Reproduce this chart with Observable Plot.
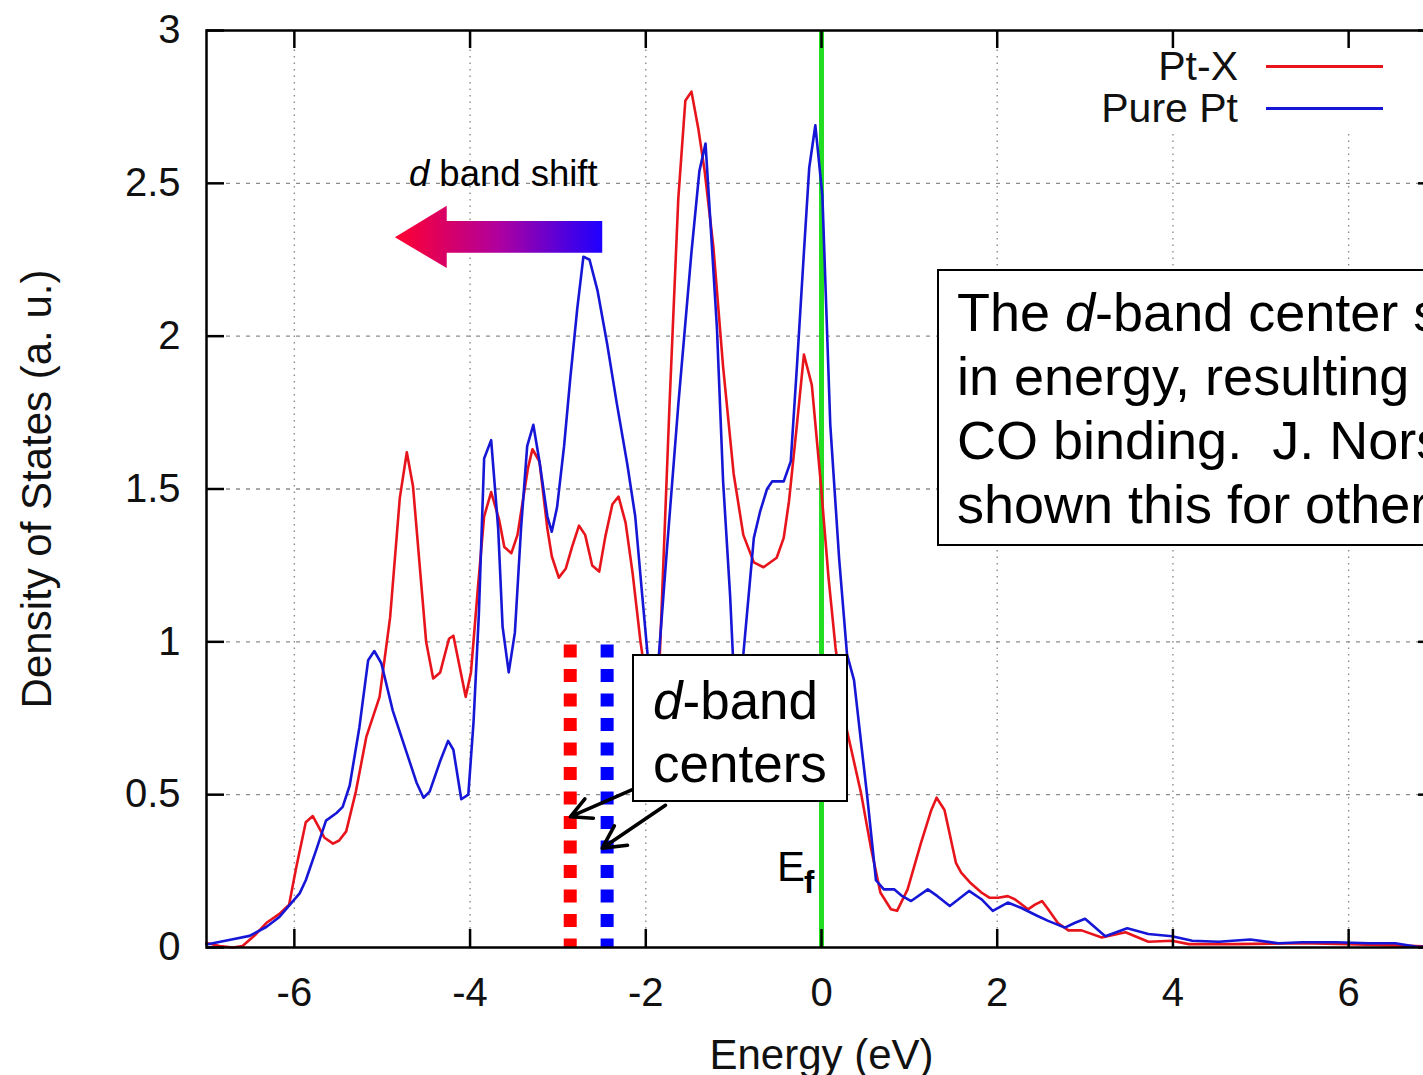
<!DOCTYPE html>
<html>
<head>
<meta charset="utf-8">
<script src="https://cdn.jsdelivr.net/npm/d3@7"></script>
<script src="https://cdn.jsdelivr.net/npm/@observablehq/plot@0.6"></script>
<style>
html, body { margin: 0; padding: 0; background: #fff; overflow: hidden; }
#wrap { position: relative; width: 1423px; height: 1075px; overflow: hidden; background: #fff;
        font-family: "Liberation Sans", Arial, Helvetica, sans-serif; color: #000; }
#wrap svg { position: absolute; left: 0; top: 0; max-width: none !important; width: 1440px !important; height: 1075px !important; }
.ov { position: absolute; white-space: nowrap; }
.box { position: absolute; box-sizing: border-box; background: #fff; border: 2px solid #000; white-space: nowrap; }
</style>
</head>
<body>
<div id="wrap"></div>
<script>
// ---------------- data ----------------
const xTicks = [-6, -4, -2, 0, 2, 4, 6];
const yTicks = [0, 0.5, 1, 1.5, 2, 2.5, 3];

const seriesNames = ["Pt-X", "Pure Pt"];
const seriesColors = ["#e8141c", "#1616d6"];

// Pt-X (red)
const ptxE = [-7.00,-6.85,-6.70,-6.59,-6.45,-6.32,-6.17,-6.06,-5.98,-5.87,-5.79,-5.66,-5.56,-5.49,-5.41,-5.30,-5.18,-5.03,-4.91,-4.80,-4.72,-4.65,-4.50,-4.42,-4.34,-4.24,-4.19,-4.05,-3.99,-3.91,-3.84,-3.76,-3.67,-3.61,-3.53,-3.46,-3.34,-3.29,-3.21,-3.12,-3.07,-2.99,-2.91,-2.84,-2.76,-2.69,-2.61,-2.53,-2.46,-2.38,-2.31,-2.23,-2.15,-2.06,-1.95,-1.84,-1.73,-1.63,-1.55,-1.48,-1.40,-1.33,-1.23,-1.12,-1.00,-0.89,-0.77,-0.66,-0.51,-0.43,-0.37,-0.28,-0.20,-0.11,-0.01,0.08,0.16,0.29,0.45,0.56,0.67,0.79,0.86,0.98,1.13,1.25,1.31,1.40,1.53,1.59,1.70,1.82,1.91,2.01,2.12,2.20,2.35,2.43,2.51,2.58,2.69,2.81,2.96,3.19,3.46,3.72,3.99,4.18,4.71,5.47,6.00,6.61,7.00];
const ptxD = [0.015,0.005,0.000,0.005,0.040,0.080,0.110,0.140,0.260,0.410,0.430,0.360,0.340,0.350,0.380,0.510,0.690,0.820,1.080,1.470,1.620,1.510,1.000,0.880,0.900,1.010,1.020,0.820,0.900,1.180,1.410,1.490,1.400,1.310,1.290,1.350,1.570,1.630,1.590,1.370,1.280,1.210,1.240,1.310,1.380,1.350,1.250,1.230,1.345,1.450,1.475,1.390,1.225,1.000,0.780,0.960,1.775,2.450,2.770,2.800,2.675,2.540,2.290,1.900,1.550,1.350,1.260,1.244,1.275,1.340,1.460,1.710,1.940,1.840,1.525,1.210,0.980,0.710,0.505,0.330,0.180,0.125,0.120,0.190,0.340,0.450,0.490,0.450,0.277,0.245,0.210,0.180,0.163,0.163,0.168,0.158,0.125,0.140,0.152,0.125,0.080,0.056,0.056,0.033,0.050,0.019,0.022,0.011,0.011,0.014,0.011,0.006,0.002];

// Pure Pt (blue)
const pureE = [-7.00,-6.70,-6.51,-6.32,-6.17,-6.06,-5.94,-5.87,-5.75,-5.64,-5.52,-5.45,-5.37,-5.26,-5.16,-5.09,-5.01,-4.88,-4.72,-4.61,-4.53,-4.46,-4.34,-4.25,-4.19,-4.10,-4.02,-3.96,-3.90,-3.84,-3.76,-3.68,-3.63,-3.56,-3.49,-3.42,-3.35,-3.28,-3.21,-3.12,-3.07,-3.01,-2.93,-2.86,-2.78,-2.71,-2.64,-2.55,-2.44,-2.33,-2.21,-2.12,-2.04,-1.98,-1.92,-1.85,-1.76,-1.63,-1.48,-1.39,-1.32,-1.27,-1.19,-1.12,-1.04,-0.98,-0.89,-0.77,-0.70,-0.62,-0.56,-0.43,-0.35,-0.28,-0.20,-0.14,-0.07,0.01,0.10,0.20,0.29,0.37,0.52,0.62,0.71,0.83,0.92,1.02,1.21,1.32,1.46,1.68,1.82,1.95,2.12,2.27,2.46,2.58,2.77,2.88,3.00,3.23,3.48,3.72,3.99,4.22,4.52,4.88,5.20,5.47,5.85,6.23,6.53,6.76,7.00];
const pureD = [0.010,0.027,0.038,0.067,0.100,0.137,0.177,0.220,0.320,0.415,0.440,0.460,0.530,0.720,0.940,0.970,0.930,0.775,0.636,0.540,0.490,0.510,0.610,0.676,0.647,0.485,0.500,0.740,1.090,1.600,1.660,1.370,1.050,0.900,1.030,1.370,1.640,1.710,1.590,1.410,1.360,1.440,1.640,1.860,2.090,2.260,2.250,2.150,1.975,1.780,1.580,1.410,1.150,0.960,0.760,0.960,1.300,1.775,2.275,2.540,2.630,2.400,2.025,1.525,1.150,0.780,0.958,1.340,1.425,1.500,1.525,1.525,1.590,1.900,2.275,2.550,2.690,2.460,1.710,1.275,0.960,0.875,0.495,0.220,0.190,0.190,0.168,0.152,0.190,0.168,0.136,0.185,0.158,0.120,0.147,0.130,0.103,0.087,0.065,0.080,0.094,0.037,0.063,0.044,0.037,0.022,0.019,0.026,0.014,0.017,0.017,0.014,0.014,0.003,0.000];

// d-band centers (eV) and the top of their marker lines
const dCenterE = [-2.86, -2.44];
const dCenterTop = 0.99;

// "d band shift" arrow outline (eV, DOS)
const shiftArrowE = [-4.85, -4.26, -4.26, -2.49, -2.49, -4.26, -4.26];
const shiftArrowD = [2.322, 2.425, 2.375, 2.375, 2.271, 2.271, 2.221];

// pointer arrows from the "d-band centers" box to the center lines
const pointerE1 = [-2.14, -1.776], pointerD1 = [0.518, 0.465];
const pointerE2 = [-2.857, -2.496], pointerD2 = [0.428, 0.325];

// annotation anchors (eV, DOS)
const centersBox = {e1: -2.151, e2: 0.307, d1: 0.9585, d2: 0.4744};
const noteBox = {e1: 1.32, d1: 2.218, d2: 1.312};
const noteLines = ["The <i>d</i>-band center s", "in energy, resulting ", "CO binding.&nbsp; J. Nors", "shown this for other"];

// ---------------- tables ----------------
const ptx = ptxE.map((e, i) => ({e, d: ptxD[i]}));
const pure = pureE.map((e, i) => ({e, d: pureD[i]}));
const shiftArrow = shiftArrowE.map((e, i) => ({e, d: shiftArrowD[i]}));
const pointers = pointerE1.map((e, i) => ({x1: e, y1: pointerD1[i], x2: pointerE2[i], y2: pointerD2[i]}));
const centerRed = [{e: dCenterE[0], top: dCenterTop, bottom: 0}];
const centerBlue = [{e: dCenterE[1], top: dCenterTop, bottom: 0}];

const FONT = '"Liberation Sans", Arial, Helvetica, sans-serif';
const tickStyle = {stroke: "#000", strokeWidth: 2.5};

const plot = Plot.plot({
  width: 1440, height: 1075,
  marginLeft: 206, marginRight: 4, marginTop: 30, marginBottom: 128,
  style: {fontFamily: FONT, fontSize: "40px", color: "#111", background: "transparent"},
  x: {domain: [-7, 7], ticks: xTicks, tickSize: 0, tickPadding: 30, tickFormat: d => String(d), label: null},
  y: {domain: [0, 3], ticks: yTicks, tickSize: 0, tickPadding: 26, tickFormat: d => String(d), label: null},
  marks: [
    Plot.ruleX(xTicks, {stroke: "#8c8c8c", strokeWidth: 1.4, strokeDasharray: "1.5,5"}),
    Plot.ruleY(yTicks.slice(1, -1), {stroke: "#8c8c8c", strokeWidth: 1.4, strokeDasharray: "4,6"}),
    Plot.ruleX([0], {stroke: "#22dd22", strokeWidth: 5}),
    Plot.ruleX(centerRed, {x: "e", y1: "top", y2: "bottom", stroke: "#ff0000", strokeWidth: 13, strokeDasharray: "13,11.5"}),
    Plot.ruleX(centerBlue, {x: "e", y1: "top", y2: "bottom", stroke: "#0000ff", strokeWidth: 13, strokeDasharray: "13,11.5"}),
    Plot.line(ptx, {x: "e", y: "d", stroke: seriesColors[0], strokeWidth: 2.6}),
    Plot.line(pure, {x: "e", y: "d", stroke: seriesColors[1], strokeWidth: 2.6}),
    Plot.frame({stroke: "#000", strokeWidth: 2.5}),
    Plot.ruleX(xTicks, {y1: () => 0, y2: () => 0.059, ...tickStyle}),
    Plot.ruleX(xTicks, {y1: () => 3, y2: () => 2.941, ...tickStyle}),
    Plot.ruleY(yTicks, {x1: () => -7, x2: () => -6.795, ...tickStyle}),
    Plot.ruleY(yTicks, {x1: () => 7, x2: () => 6.795, ...tickStyle}),
    Plot.arrow(pointers, {x1: "x1", y1: "y1", x2: "x2", y2: "y2", stroke: "#000", strokeWidth: 3.6, headLength: 16, headAngle: 55}),
    Plot.text(["Energy (eV)"], {text: d => d, frameAnchor: "bottom", textAnchor: "middle", lineAnchor: "middle", dy: 108, fontSize: 42, fill: "#111"}),
    Plot.text(["Density of States (a. u.)"], {text: d => d, frameAnchor: "left", textAnchor: "middle", lineAnchor: "middle", dx: -169, rotate: -90, fontSize: 42, fill: "#111"})
  ]
});

const wrap = document.getElementById("wrap");
wrap.appendChild(plot);

const sx = plot.scale("x"), sy = plot.scale("y");
const X = v => sx.apply(v), Y = v => sy.apply(v);

// gradient "d band shift" arrow, positioned through the plot's scales
const svg = d3.select(plot);
const defs = svg.insert("defs", ":first-child");
const lg = defs.append("linearGradient").attr("id", "shiftGrad")
  .attr("x1", "0%").attr("x2", "100%").attr("y1", "0%").attr("y2", "0%");
lg.append("stop").attr("offset", "0%").attr("stop-color", "#ff0030");
lg.append("stop").attr("offset", "50%").attr("stop-color", "#b0009e");
lg.append("stop").attr("offset", "100%").attr("stop-color", "#1e00ff");
const arrowPath = d3.line().x(p => X(p.e)).y(p => Y(p.d))(shiftArrow) + "Z";
const frameG = plot.querySelector('g[aria-label="frame"]');
const ap = document.createElementNS("http://www.w3.org/2000/svg", "path");
ap.setAttribute("d", arrowPath);
ap.setAttribute("fill", "url(#shiftGrad)");
ap.setAttribute("stroke", "none");
if (frameG) plot.insertBefore(ap, frameG); else plot.appendChild(ap);

// ---------------- overlays ----------------
function addDiv(cls, html, css) {
  const el = document.createElement("div");
  el.className = cls;
  el.innerHTML = html;
  Object.assign(el.style, css);
  wrap.appendChild(el);
  return el;
}

// "d band shift" label
addDiv("ov", "<i>d</i> band shift", {left: (X(shiftArrowE[0]) + 14) + "px", top: (Y(shiftArrowD[1]) - 50) + "px",
  fontSize: "36.5px", lineHeight: "36px"});

// E_f label
addDiv("ov", "E", {left: (X(0) - 44) + "px", top: "846px", fontSize: "42px", lineHeight: "42px"});
addDiv("ov", "f", {left: (X(0) - 17) + "px", top: "867px", fontSize: "31px", lineHeight: "31px", fontWeight: "bold"});

// "d-band centers" box
addDiv("box", "<i>d</i>-band<br>centers", {
  left: X(centersBox.e1) + "px", top: Y(centersBox.d1) + "px",
  width: (X(centersBox.e2) - X(centersBox.e1)) + "px", height: (Y(centersBox.d2) - Y(centersBox.d1)) + "px",
  padding: "13px 0 0 19px", fontSize: "53px", lineHeight: "63px"});

// explanatory note box (runs off the right edge, as in the original slide)
addDiv("box", noteLines.join("<br>"), {
  left: X(noteBox.e1) + "px", top: Y(noteBox.d1) + "px",
  width: "600px", height: (Y(noteBox.d2) - Y(noteBox.d1)) + "px",
  padding: "9px 0 0 18px", fontSize: "54px", lineHeight: "64px"});

// legend
addDiv("ov", "", {left: "1085px", top: "49px", width: "320px", height: "80px", background: "#fff"});
seriesNames.forEach((name, i) => {
  const cy = 66 + i * 42;
  addDiv("ov", name, {top: (cy + 15 - 35) + "px", right: (1423 - 1238) + "px", fontSize: "41px", lineHeight: "41px", color: "#111"});
  addDiv("ov", "", {left: "1266px", top: (cy - 1.5) + "px", width: "117px", height: "3px", background: seriesColors[i]});
});
</script>
</body>
</html>
